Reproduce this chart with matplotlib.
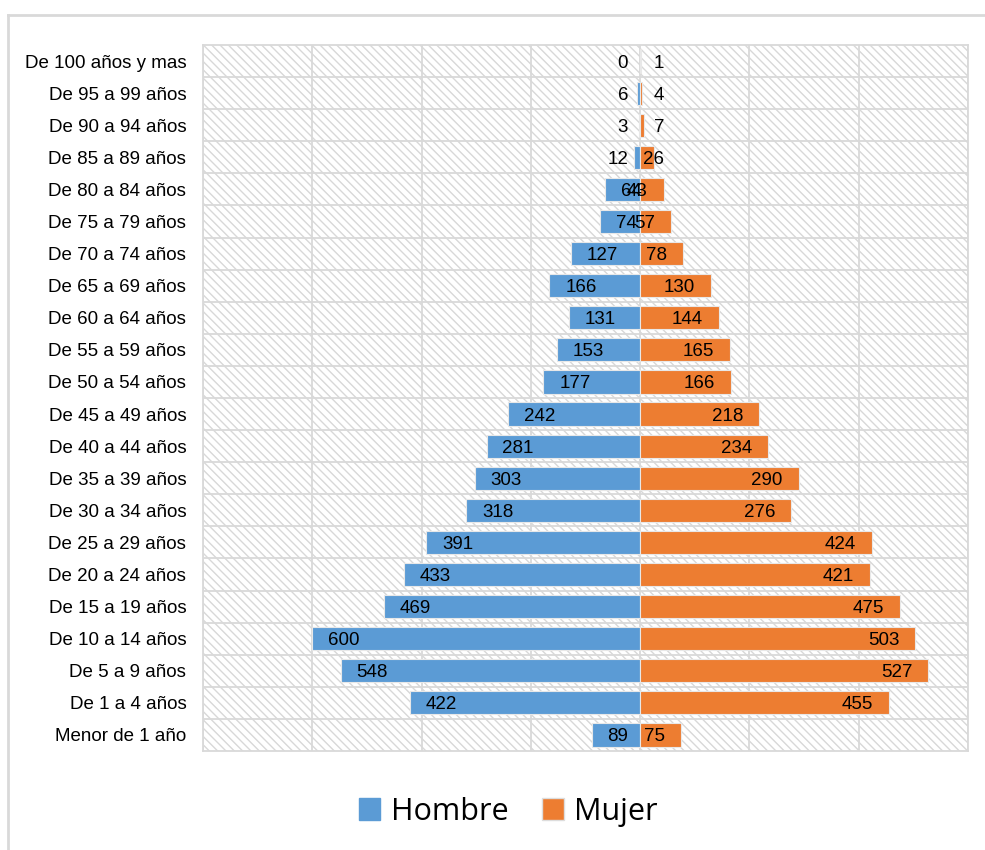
import numpy as np
import matplotlib
matplotlib.use("Agg")
import matplotlib.pyplot as plt
from matplotlib.patches import Rectangle, Patch
from matplotlib.lines import Line2D

# Data (top row first)
grupos = ["De 100 años y mas", "De 95 a 99 años", "De 90 a 94 años", "De 85 a 89 años",
          "De 80 a 84 años", "De 75 a 79 años", "De 70 a 74 años", "De 65 a 69 años",
          "De 60 a 64 años", "De 55 a 59 años", "De 50 a 54 años", "De 45 a 49 años",
          "De 40 a 44 años", "De 35 a 39 años", "De 30 a 34 años", "De 25 a 29 años",
          "De 20 a 24 años", "De 15 a 19 años", "De 10 a 14 años", "De 5 a 9 años",
          "De 1 a 4 años", "Menor de 1 año"]
hombre = [0, 6, 3, 12, 64, 74, 127, 166, 131, 153, 177, 242, 281, 303, 318, 391,
          433, 469, 600, 548, 422, 89]
mujer = [1, 4, 7, 26, 43, 57, 78, 130, 144, 165, 166, 218, 234, 290, 276, 424,
         421, 475, 503, 527, 455, 75]

azul = "#5B9BD5"
naranja = "#ED7D31"
gris = "#d9d9d9"

plt.rcParams['font.family'] = ['Liberation Sans', 'DejaVu Sans']
plt.rcParams['hatch.linewidth'] = 1.0

fig = plt.figure(figsize=(9.85, 8.5), dpi=100)
ax = fig.add_axes([203/985, 1 - 751/850, (968 - 203)/985, (751 - 45)/850])

y = np.arange(len(grupos))

# hatched background
ax.add_patch(Rectangle((0, 0), 1, 1, transform=ax.transAxes, facecolor="white",
                       edgecolor="#d8d8d8", hatch="\\\\\\\\", lw=0, zorder=0))

ax.barh(y, [-v for v in hombre], height=0.72, color=azul, edgecolor="#e8e8e8",
        lw=0.8, zorder=3)
ax.barh(y, mujer, height=0.72, color=naranja, edgecolor="#e8e8e8", lw=0.8, zorder=3)

# gridlines
for gx in range(-800, 601, 200):
    ax.axvline(gx, color=gris, lw=1.3, zorder=1)
for gy in np.arange(len(grupos) - 1) + 0.5:
    ax.axhline(gy, color=gris, lw=1.3, zorder=1)

# data labels
fs = 13.5
for i, v in enumerate(hombre):
    if v >= 40:
        ax.text(-v + 29, i, str(v), ha="left", va="center_baseline", fontsize=fs, zorder=5)
    else:
        ax.text(-22, i, str(v), ha="right", va="center_baseline", fontsize=fs, zorder=5)
for i, v in enumerate(mujer):
    if v >= 40:
        ax.text(v - 29, i, str(v), ha="right", va="center_baseline", fontsize=fs, zorder=5)
    else:
        ax.text(44, i, str(v), ha="right", va="center_baseline", fontsize=fs, zorder=5)

ax.set_xlim(-800, 600)
ax.set_ylim(len(grupos) - 0.5, -0.5)
ax.set_yticks(y)
ax.set_yticklabels(grupos, fontsize=13.5)
ax.set_xticks([])
ax.tick_params(axis="y", length=0, pad=12)
for s in ax.spines.values():
    s.set_color(gris)
    s.set_linewidth(1.3)

# outer frame
fig.add_artist(Line2D([8/985, 1], [1 - 15/850, 1 - 15/850], color="#d9d9d9", lw=2,
                      transform=fig.transFigure))
fig.add_artist(Line2D([8/985, 8/985], [0, 1 - 15/850], color="#d9d9d9", lw=2,
                      transform=fig.transFigure))

handles = [Patch(facecolor=azul, edgecolor=azul), Patch(facecolor=naranja, edgecolor="#dddddd")]
fig.legend(handles, ["Hombre", "Mujer"], loc="center", bbox_to_anchor=(0.516, 0.045),
           ncol=2, frameon=False, prop={"family": "Open Sans", "size": 22},
           handlelength=0.7, handleheight=0.7, handletextpad=0.35, columnspacing=1.1)

fig.savefig("out.png", dpi=100)
